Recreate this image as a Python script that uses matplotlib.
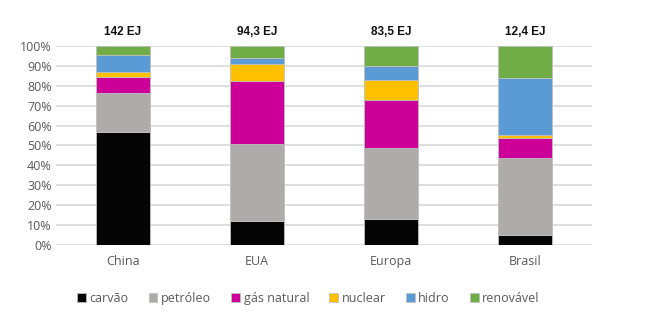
import numpy as np
import matplotlib
matplotlib.use("Agg")
import matplotlib.pyplot as plt

regioes = ["China", "EUA", "Europa", "Brasil"]
totais = ["142 EJ", "94,3 EJ", "83,5 EJ", "12,4 EJ"]
fontes = ["carvão", "petróleo", "gás natural", "nuclear", "hidro", "renovável"]
carvao = [56.6, 11.9, 13.1, 4.9]
petroleo = [19.9, 38.8, 35.8, 39.0]
gas = [8.1, 31.9, 24.1, 9.9]
nuclear = [2.5, 8.4, 9.9, 1.3]
hidro = [8.2, 3.0, 7.1, 29.0]
renovavel = [4.7, 6.0, 10.0, 15.9]
cores = ["#050505", "#afabab", "#cc0099", "#ffc000", "#5b9bd5", "#70ad47"]

series = [carvao, petroleo, gas, nuclear, hidro, renovavel]

plt.rcParams['font.family'] = ['Open Sans', 'DejaVu Sans']

fig = plt.figure(figsize=(6.59, 3.21), dpi=100)
ax = fig.add_axes([0.085, 0.237, 0.813, 0.62])

x = np.arange(len(regioes))
base = np.zeros(len(regioes))
for nome, vals, cor in zip(fontes, series, cores):
    ax.bar(x, vals, bottom=base, width=0.4, color=cor, edgecolor="#bfbfbf",
           linewidth=0.6, label=nome, zorder=3)
    base += np.array(vals)

for xi, t in zip(x, totais):
    ax.text(xi, 104, t, ha="center", va="bottom", fontsize=8.5, fontweight="bold",
            family="Liberation Sans", color="#111111")

ax.set_xlim(-0.5, 3.5)
ax.set_ylim(0, 100)
ax.set_yticks(np.arange(0, 101, 10))
ax.set_yticklabels([f"{v}%" for v in range(0, 101, 10)])
ax.set_xticks(x)
ax.set_xticklabels(regioes)
ax.tick_params(axis="both", length=0, labelsize=9, colors="#595959")
ax.tick_params(axis="y", pad=3)
ax.tick_params(axis="x", pad=7)
ax.yaxis.grid(True, color="#d9d9d9", linewidth=1.2, zorder=0)
for s in ax.spines.values():
    s.set_visible(False)

leg = fig.legend(loc="center", bbox_to_anchor=(0.468, 0.07), ncol=6, frameon=False,
                 fontsize=9, handlelength=0.7, handleheight=0.7, handletextpad=0.3,
                 columnspacing=1.6)
for t in leg.get_texts():
    t.set_color("#595959")

fig.savefig("out.png", dpi=100)
